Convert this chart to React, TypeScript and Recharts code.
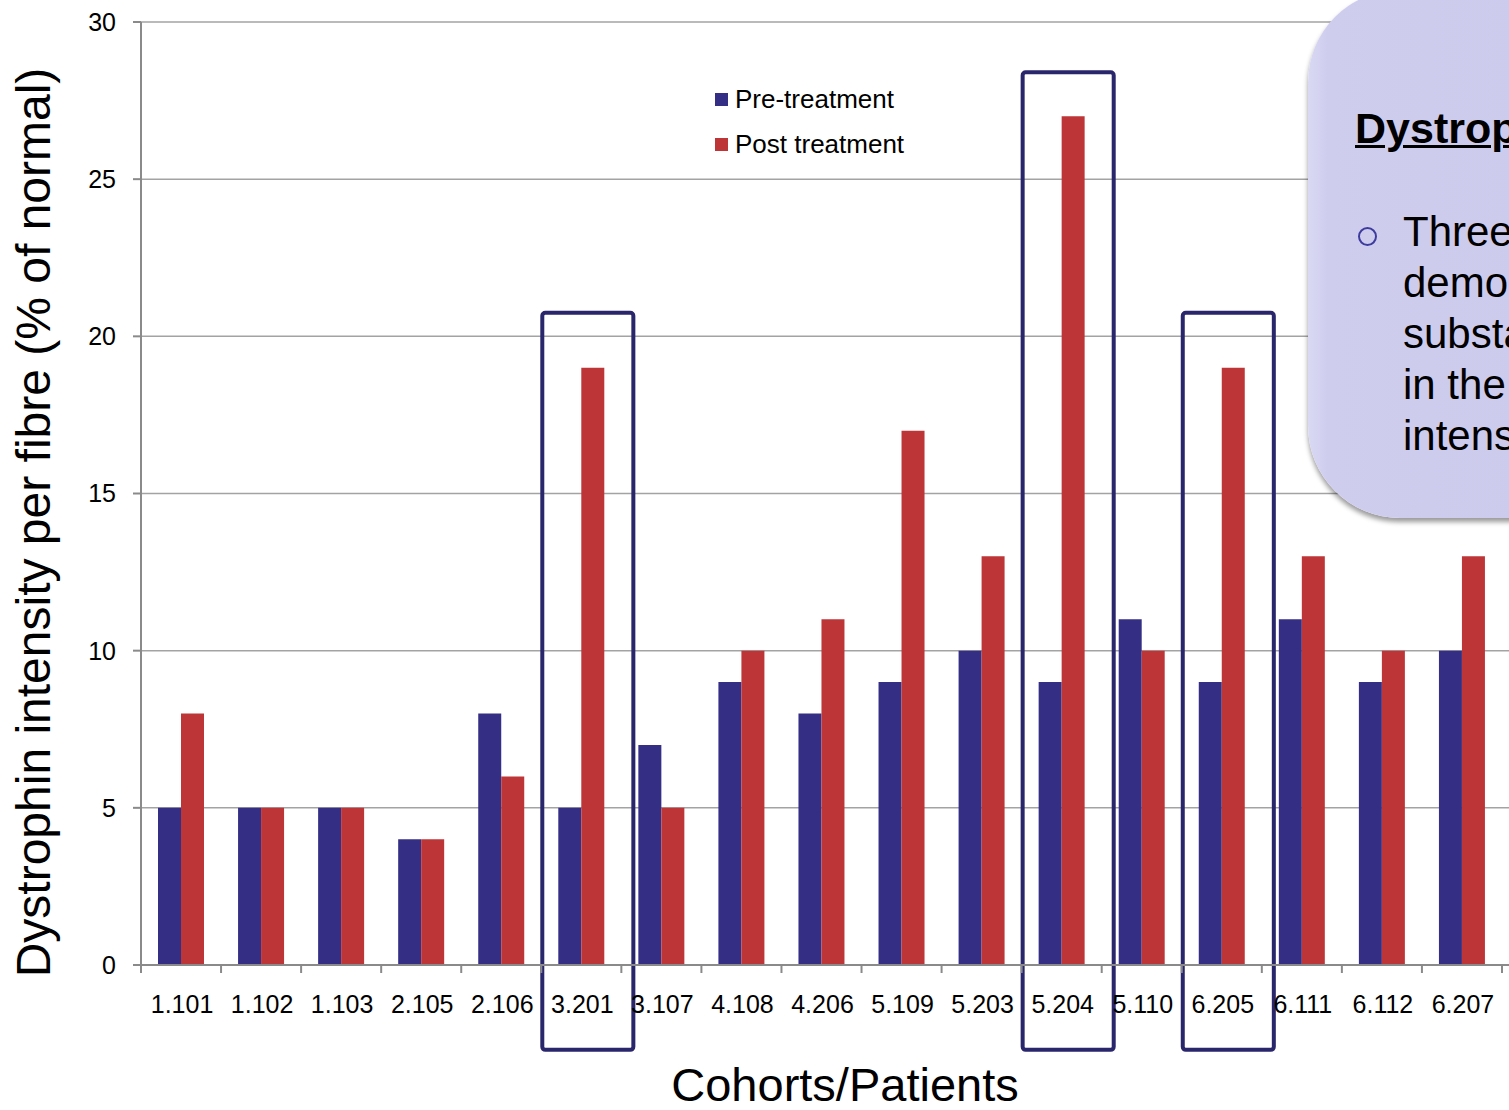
import { Bar, BarChart, CartesianGrid, Legend, ReferenceArea, XAxis, YAxis } from "recharts";

const patients = [
  "1.101", "1.102", "1.103", "2.105", "2.106", "3.201", "3.107", "4.108", "4.206",
  "5.109", "5.203", "5.204", "5.110", "6.205", "6.111", "6.112", "6.207",
];
const preTreatment = [5, 5, 5, 4, 8, 5, 7, 9, 8, 9, 10, 9, 11, 9, 11, 9, 10];
const postTreatment = [8, 5, 5, 4, 6, 19, 5, 10, 11, 17, 13, 27, 10, 19, 13, 10, 13];
const yTicks = [0, 5, 10, 15, 20, 25, 30];
const seriesNames = ["Pre-treatment", "Post treatment"];

// patients boxed as responders, with the top of each box in axis units
const responders = ["3.201", "5.204", "6.205"];
const responderTop = [20.75, 28.4, 20.75];
const responderBottom = -2.7;

const PRE = "#342f85";
const POST = "#be3538";
const FONT = "Arial, 'Liberation Sans', sans-serif";

const rows = patients.map((p, i) => ({ patient: p, pre: preTreatment[i], post: postTreatment[i] }));

function PatientTick(props: any) {
  const { x, y, payload, index, visibleTicksCount } = props;
  const half = payload.offset ?? 40;
  const axisY = y - 30;
  const last = index === visibleTicksCount - 1;
  return (
    <g>
      <line x1={x - half} x2={x - half} y1={axisY} y2={axisY + 8} stroke="#8a8a8a" strokeWidth={2} />
      {last && <line x1={x + half} x2={x + half} y1={axisY} y2={axisY + 8} stroke="#8a8a8a" strokeWidth={2} />}
      <text x={x + 1} y={y} dy="0.71em" textAnchor="middle" fontSize={25} fontFamily={FONT} fill="#000">
        {payload.value}
      </text>
    </g>
  );
}

function YTitle({ viewBox }: any) {
  const cx = viewBox.x + 50;
  const cy = viewBox.y + viewBox.height / 2 + 29;
  return (
    <text x={cx} y={cy} transform={`rotate(-90 ${cx} ${cy})`} textAnchor="middle" fontSize={48} fontFamily={FONT} fill="#000">
      Dystrophin intensity per fibre (% of normal)
    </text>
  );
}

function XTitle({ viewBox }: any) {
  const cx = viewBox.x + viewBox.width / 2 + 20;
  return (
    <text x={cx} y={1101} textAnchor="middle" fontSize={47} fontFamily={FONT} fill="#000">
      Cohorts/Patients
    </text>
  );
}

function ResponderBox(props: any) {
  const { x, y, width, height } = props;
  return (
    <rect x={x + 1} y={y} width={width + 11} height={height} rx={3} fill="none" stroke="#29266b" strokeWidth={4} />
  );
}

function LegendBlock({ payload }: any) {
  const items = [...(payload ?? [])].sort(
    (a: any, b: any) => seriesNames.indexOf(a.value) - seriesNames.indexOf(b.value)
  );
  return (
    <div style={{ fontFamily: FONT, fontSize: 26, color: "#000" }}>
      {items.map((e: any) => (
        <div key={e.value} style={{ display: "flex", alignItems: "center", height: 45 }}>
          <span style={{ width: 13, height: 13, background: e.color, marginRight: 7 }} />
          <span>{e.value}</span>
        </div>
      ))}
    </div>
  );
}

export default function App() {
  return (
    <div style={{ position: "absolute", left: 0, top: 0, width: 1509, height: 1110, overflow: "hidden", background: "#fff" }}>
      <BarChart
        width={1509}
        height={1110}
        data={rows}
        barGap={0}
        margin={{ top: 22, right: 0, left: 0, bottom: 0 }}
      >
        <CartesianGrid vertical={false} stroke="#a3a3a3" strokeWidth={1.5} />
        <XAxis
          dataKey="patient"
          height={145}
          padding={{ left: 0, right: 7 }}
          axisLine={{ stroke: "#8a8a8a", strokeWidth: 2 }}
          tickLine={false}
          tickSize={8}
          tickMargin={22}
          interval={0}
          tick={<PatientTick />}
          label={<XTitle />}
        />
        <YAxis
          width={141}
          domain={[0, 30]}
          ticks={yTicks}
          axisLine={{ stroke: "#8a8a8a", strokeWidth: 2 }}
          tickLine={{ stroke: "#8a8a8a", strokeWidth: 2 }}
          tickSize={8}
          tickMargin={17}
          tick={{ fontSize: 25, fontFamily: FONT, fill: "#000" }}
          label={<YTitle />}
        />
        <Legend
          layout="vertical"
          align="center"
          verticalAlign="middle"
          wrapperStyle={{ left: 715, top: 77, width: 260 }}
          content={<LegendBlock />}
        />
        <Bar dataKey="pre" name={seriesNames[0]} fill={PRE} barSize={23} isAnimationActive={false} />
        <Bar dataKey="post" name={seriesNames[1]} fill={POST} barSize={23} isAnimationActive={false} />
        {responders.map((p, i) => (
          <ReferenceArea
            key={p}
            x1={p}
            x2={p}
            y1={responderBottom}
            y2={responderTop[i]}
            ifOverflow="visible"
            shape={<ResponderBox />}
          />
        ))}
      </BarChart>

      <div
        style={{
          position: "absolute",
          left: 1308,
          top: -10,
          width: 320,
          height: 528,
          borderRadius: 92,
          background: "linear-gradient(90deg, #dad9f3 0%, #cfcdee 6%, #cbcaec 100%)",
          boxShadow: "0 4px 5px rgba(0,0,0,0.4)",
          overflow: "hidden",
          fontFamily: FONT,
          color: "#000",
          whiteSpace: "nowrap",
        }}
      >
        <div
          style={{
            position: "absolute",
            left: 47,
            top: 113,
            fontSize: 43,
            lineHeight: "51px",
            fontWeight: "bold",
            textDecoration: "underline",
            textDecorationThickness: 3,
          }}
        >
          Dystrophin expression
        </div>
        <span
          style={{
            position: "absolute",
            left: 50,
            top: 237,
            width: 15,
            height: 15,
            borderRadius: "50%",
            border: "2px solid #3d3c9e",
          }}
        />
        <div style={{ position: "absolute", left: 95, top: 216, fontSize: 42, lineHeight: "51px" }}>
          <div>Three patients</div>
          <div>demonstrated</div>
          <div>substantial increases</div>
          <div>in the dystrophin</div>
          <div>intensity</div>
        </div>
      </div>
    </div>
  );
}
